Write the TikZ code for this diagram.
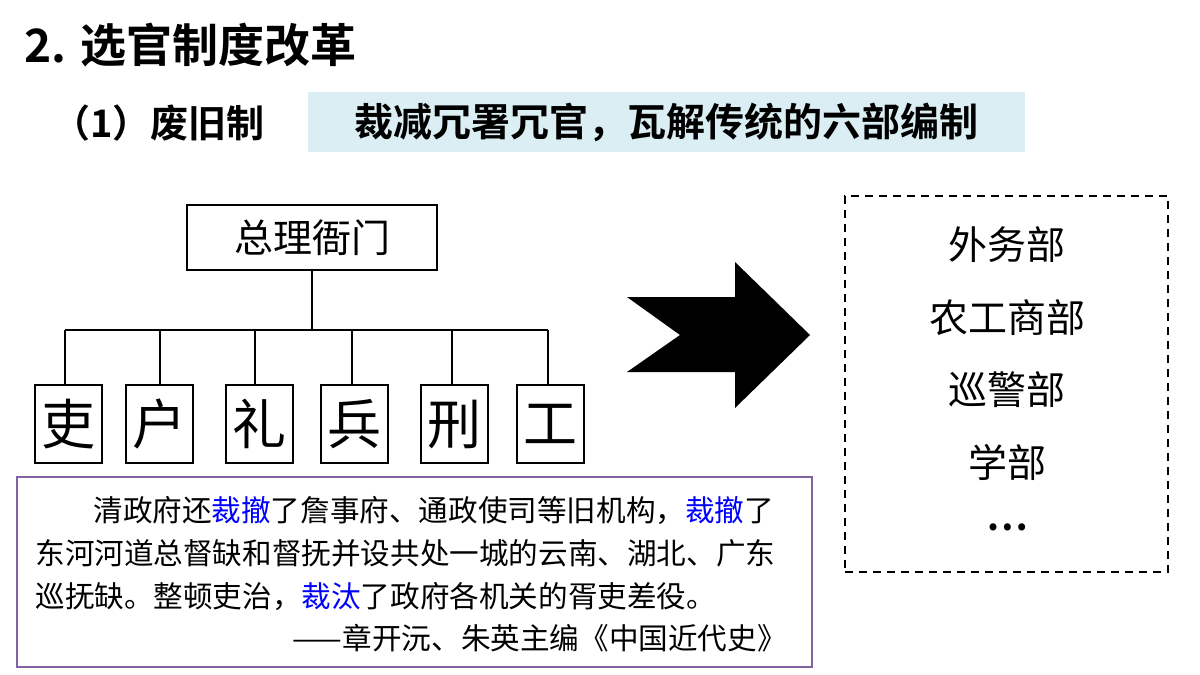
\documentclass[tikz,border=0pt]{standalone}
\usepackage{fontspec}
\setmainfont{Noto Sans CJK SC}
\newfontfamily\cjkb{Noto Sans CJK SC Bold}
\begin{document}
\begin{tikzpicture}[x=0.5pt,y=-0.5pt,
  box/.style={draw,line width=1pt,inner sep=0pt},
  ln/.style={line width=0.8pt}]
\useasboundingbox (0,0) rectangle (1200,675);
\node[anchor=west,inner sep=0pt,font=\cjkb\fontsize{23}{26}\selectfont] (title) at (24,45) {2. 选官制度改革};
\node[anchor=west,inner sep=0pt,font=\cjkb\fontsize{19}{22}\selectfont] (sub) at (52,123) {（1）废旧制};
\node[fill={rgb,255:red,218;green,238;blue,243},minimum width=358.5pt,minimum height=30pt,inner sep=0pt,font=\cjkb\fontsize{19.5}{22}\selectfont] (blue) at (666.5,122) {裁减冗署冗官，瓦解传统的六部编制};
\node[box,minimum width=125pt,minimum height=32.5pt,font=\fontsize{19.5}{22}\selectfont] (zl) at (312,237.5) {总理衙门};
\coordinate (j) at (312,330);
\draw[ln] (zl.south) -- (j);
\draw[ln] (65,330) -- (548,330);
\foreach \n/\c/\x/\lx in {a/吏/68.5/65,b/户/159.5/160,c/礼/259.5/255,d/兵/354/352,e/刑/454/452,f/工/550/548}{
  \node[box,minimum width=33.5pt,minimum height=39pt,font=\fontsize{27}{30}\selectfont] (\n) at (\x,424) {\c};
  \draw[ln] (\lx,330) -- (\lx,385);
}
\fill (627,297) -- (735,297) -- (735,262) -- (810,335) -- (735,408) -- (735,372) -- (627,372) -- (680,335) -- cycle;
\node[draw,dash pattern=on 4pt off 3pt,line width=1.1pt,minimum width=161.5pt,minimum height=188pt] (right) at (1006.5,384) {};
\foreach \t/\y/\nm in {外务部/245/r1,农工商部/318/r2,巡警部/390/r3,学部/462/r4}
  \node[font=\fontsize{19.5}{22}\selectfont] (\nm) at (1007,\y) {\t};
\node[font=\cjkb\fontsize{19}{22}\selectfont] (r5) at (1007,527) {…};
\node[draw={rgb,255:red,128;green,100;blue,162},line width=1.2pt,minimum width=397.5pt,minimum height=95pt] (quote) at (414.5,572) {};
\begin{scope}[font=\fontsize{14.8}{17}\selectfont]
\node[anchor=west,inner sep=0pt] (q1) at (93,510) {清政府还\textcolor{blue}{裁撤}了詹事府、通政使司等旧机构，\textcolor{blue}{裁撤}了};
\node[anchor=west,inner sep=0pt] (q2) at (35,553) {东河河道总督缺和督抚并设共处一城的云南、湖北、广东};
\node[anchor=west,inner sep=0pt] (q3) at (35,596) {巡抚缺。整顿吏治，\textcolor{blue}{裁汰}了政府各机关的胥吏差役。};
\node[anchor=east,inner sep=0pt] (q4) at (787,638) {——章开沅、朱英主编《中国近代史》};
\end{scope}
\end{tikzpicture}
\end{document}
